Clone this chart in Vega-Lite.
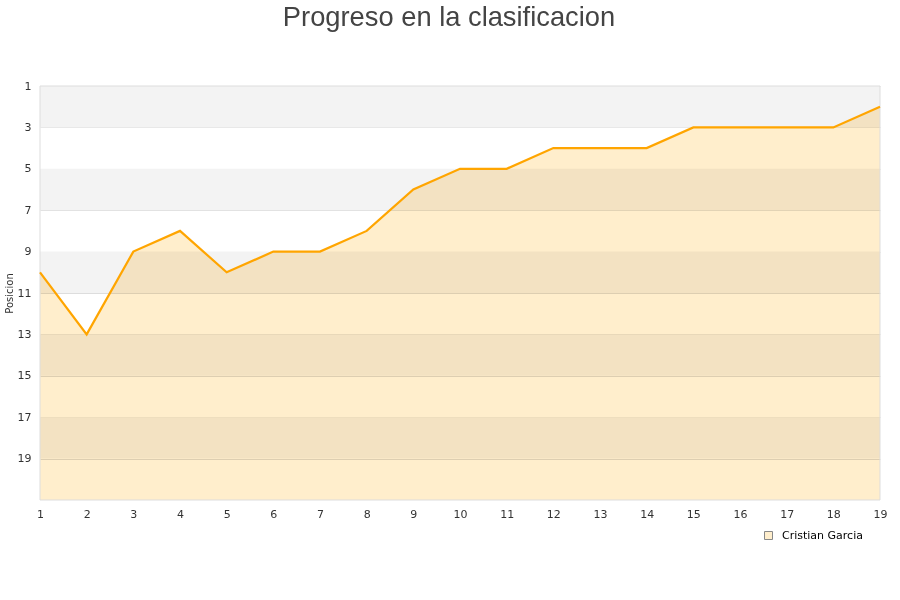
{
  "$schema": "https://vega.github.io/schema/vega-lite/v6.json",
  "autosize": {"type": "none"},
  "width": 840,
  "height": 414,
  "padding": {"left": 40, "top": 86, "right": 20, "bottom": 100},
  "background": "white",
  "title": {
    "text": "Progreso en la clasificacion",
    "font": "Liberation Sans",
    "fontSize": 27.3,
    "fontWeight": "normal",
    "color": "#444444",
    "anchor": "middle",
    "frame": "group",
    "offset": 49,
    "dx": -11
  },
  "config": {
    "view": {"stroke": null},
    "axis": {
      "labelFont": "DejaVu Sans",
      "labelFontSize": 11,
      "labelColor": "#333333",
      "titleFont": "DejaVu Sans",
      "titleFontSize": 10,
      "titleFontWeight": "normal",
      "titleColor": "#333333",
      "ticks": false,
      "domain": false,
      "labelFlush": false
    }
  },
  "datasets": {
    "bands": [
      {"y0": 1, "y1": 3},
      {"y0": 5, "y1": 7},
      {"y0": 9, "y1": 11},
      {"y0": 13, "y1": 15},
      {"y0": 17, "y1": 19}
    ],
    "frame": [
      {"x0": 1, "x1": 19, "y0": 1, "y1": 21}
    ],
    "series": [
      {"jornada": 1, "pos": 10, "name": "Cristian Garcia"},
      {"jornada": 2, "pos": 13, "name": "Cristian Garcia"},
      {"jornada": 3, "pos": 9, "name": "Cristian Garcia"},
      {"jornada": 4, "pos": 8, "name": "Cristian Garcia"},
      {"jornada": 5, "pos": 10, "name": "Cristian Garcia"},
      {"jornada": 6, "pos": 9, "name": "Cristian Garcia"},
      {"jornada": 7, "pos": 9, "name": "Cristian Garcia"},
      {"jornada": 8, "pos": 8, "name": "Cristian Garcia"},
      {"jornada": 9, "pos": 6, "name": "Cristian Garcia"},
      {"jornada": 10, "pos": 5, "name": "Cristian Garcia"},
      {"jornada": 11, "pos": 5, "name": "Cristian Garcia"},
      {"jornada": 12, "pos": 4, "name": "Cristian Garcia"},
      {"jornada": 13, "pos": 4, "name": "Cristian Garcia"},
      {"jornada": 14, "pos": 4, "name": "Cristian Garcia"},
      {"jornada": 15, "pos": 3, "name": "Cristian Garcia"},
      {"jornada": 16, "pos": 3, "name": "Cristian Garcia"},
      {"jornada": 17, "pos": 3, "name": "Cristian Garcia"},
      {"jornada": 18, "pos": 3, "name": "Cristian Garcia"},
      {"jornada": 19, "pos": 2, "name": "Cristian Garcia"}
    ]
  },
  "layer": [
    {
      "data": {"name": "bands"},
      "mark": {"type": "rect", "fill": "#f3f3f3"},
      "encoding": {
        "y": {"field": "y0", "type": "quantitative", "scale": {"domain": [1, 21], "reverse": true, "zero": false, "nice": false},
          "axis": {"values": [1, 3, 5, 7, 9, 11, 13, 15, 17, 19], "title": "Posicion", "grid": true, "gridColor": "#dddddd", "labelPadding": 9, "titlePadding": 3}},
        "y2": {"field": "y1"}
      }
    },
    {
      "data": {"name": "series"},
      "mark": {"type": "area", "fillOpacity": 1, "blend": "multiply", "interpolate": "linear"},
      "encoding": {
        "x": {"field": "jornada", "type": "quantitative", "scale": {"domain": [1, 19], "nice": false, "zero": false},
          "axis": {"values": [1, 2, 3, 4, 5, 6, 7, 8, 9, 10, 11, 12, 13, 14, 15, 16, 17, 18, 19], "title": null, "grid": false, "labelPadding": 8, "format": "d"}},
        "y": {"field": "pos", "type": "quantitative"},
        "y2": {"datum": 21},
        "fill": {"field": "name", "type": "nominal", "scale": {"range": ["#FFEECC"]},
          "legend": {
            "title": null,
            "orient": "none",
            "legendX": 723,
            "legendY": 444,
            "symbolType": "square",
            "symbolSize": 64,
            "symbolStrokeColor": "#888888",
            "symbolStrokeWidth": 1,
            "symbolOpacity": 1,
            "labelFont": "DejaVu Sans",
            "labelFontSize": 11,
            "labelColor": "#000000",
            "labelOffset": 8,
            "padding": 0
          }}
      }
    },
    {
      "data": {"name": "frame"},
      "mark": {"type": "rect", "fill": null, "stroke": "#dddddd", "strokeWidth": 1},
      "encoding": {
        "x": {"field": "x0", "type": "quantitative"},
        "x2": {"field": "x1"},
        "y": {"field": "y0", "type": "quantitative"},
        "y2": {"field": "y1"}
      }
    },
    {
      "data": {"name": "series"},
      "mark": {"type": "line", "color": "#FFA500", "strokeWidth": 2.2},
      "encoding": {
        "x": {"field": "jornada", "type": "quantitative"},
        "y": {"field": "pos", "type": "quantitative"}
      }
    }
  ]
}
